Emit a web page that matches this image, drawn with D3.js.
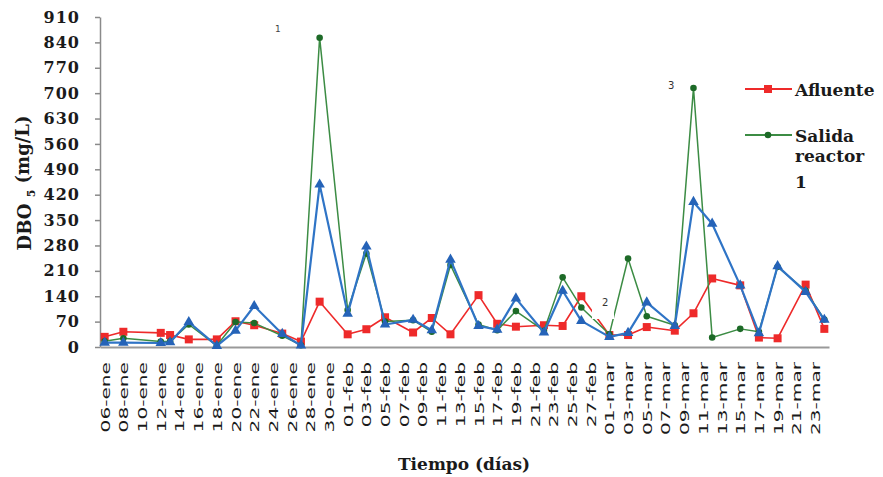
<!DOCTYPE html>
<html>
<head>
<meta charset="utf-8">
<script src="https://cdn.jsdelivr.net/npm/d3@7"></script>
<style>
  body { margin: 0; background: #fff; }
</style>
</head>
<body>
<script>
const w = 883;
const h = 477;

// fechas de muestreo
const fechas = ["06-ene", "08-ene", "12-ene", "13-ene", "15-ene", "18-ene", "20-ene", "22-ene", "25-ene", "27-ene",
  "29-ene", "01-feb", "03-feb", "05-feb", "08-feb", "10-feb", "12-feb", "15-feb", "17-feb", "19-feb",
  "22-feb", "24-feb", "26-feb", "01-mar", "03-mar", "05-mar", "08-mar", "10-mar", "12-mar", "15-mar",
  "17-mar", "19-mar", "22-mar", "24-mar"];

const afluente = [28, 42, 39, 33, 21, 21, 71, 60, 37, 15,
  125, 35, 49, 82, 40, 80, 35, 143, 64, 56,
  60, 58, 140, 33, 33, 55, 45, 93, 189, 170,
  26, 24, 172, 50];

const salida1 = [16, 24, 15, 16, 62, 4, 69, 66, 31, 5,
  853, 102, 258, 70, 74, 42, 226, 62, 46, 99,
  45, 192, 109, 35, 244, 85, 60, 714, 26, 50,
  42, 221, 155, 76];

const salida2 = [12, 12, 11, 13, 69, 3, 45, 113, 36, 4,
  448, 92, 277, 62, 75, 46, 241, 58, 48, 134,
  40, 155, 72, 28, 39, 123, 58, 400, 340, 170,
  38, 223, 152, 75];

const tickLabels = ["06-ene", "08-ene", "10-ene", "12-ene", "14-ene", "16-ene", "18-ene", "20-ene", "22-ene", "24-ene",
  "26-ene", "28-ene", "30-ene", "01-feb", "03-feb", "05-feb", "07-feb", "09-feb", "11-feb", "13-feb",
  "15-feb", "17-feb", "19-feb", "21-feb", "23-feb", "25-feb", "27-feb", "01-mar", "03-mar", "05-mar",
  "07-mar", "09-mar", "11-mar", "13-mar", "15-mar", "17-mar", "19-mar", "21-mar", "23-mar"];

const yTicks = [0, 70, 140, 210, 280, 350, 420, 490, 560, 630, 700, 770, 840, 910];

const meses = { ene: 0, feb: 1, mar: 2 };
const parseFecha = s => new Date(2021, meses[s.slice(3)], +s.slice(0, 2), 0);

let svg = d3.select("body").append("svg").attr("width", w).attr("height", h);

let x = d3.scaleTime()
  .domain([new Date(2021, 0, 5, 12), new Date(2021, 2, 24, 12)])
  .range([100, 829]);
let y = d3.scaleLinear().domain([0, 910]).range([347, 17]);

// eje Y
let yAxis = svg.append("g")
  .attr("transform", "translate(100,0)")
  .call(d3.axisLeft(y).tickValues(yTicks).tickSize(5).tickSizeOuter(0).tickPadding(15));
yAxis.select(".domain").attr("stroke", "#8a8a8a").attr("stroke-width", 1.5);
yAxis.selectAll(".tick line").attr("stroke", "#8a8a8a").attr("stroke-width", 1.5);
yAxis.selectAll(".tick text")
  .attr("font-family", "DejaVu Serif")
  .attr("font-weight", "bold")
  .attr("font-size", 16)
  .attr("letter-spacing", 1)
  .attr("fill", "#1a1a1a");

// eje X
let xAxis = svg.append("g")
  .attr("transform", "translate(0,347)")
  .call(d3.axisBottom(x)
    .tickValues(tickLabels.map(parseFecha))
    .tickSize(0)
    .tickSizeOuter(0)
    .tickFormat((d, i) => tickLabels[i]));
xAxis.select(".domain").attr("stroke", "#999").attr("stroke-width", 2);
xAxis.selectAll(".tick text")
  .attr("x", 0)
  .attr("y", 0)
  .attr("dy", "0.35em")
  .attr("text-anchor", "end")
  .attr("transform", "translate(0,15) rotate(-90) scale(1.55,1)")
  .attr("font-family", "DejaVu Sans")
  .attr("font-size", 13)
  .attr("fill", "#1a1a1a");

// series
const series = [
  { name: "Afluente", values: afluente, color: "#ee2a2a", mark: "#ee2a2a", width: 1.6, symbol: d3.symbolSquare, size: 64 },
  { name: "Salida reactor 1", values: salida1, color: "#3c8c44", mark: "#1d6a27", width: 1.5, symbol: d3.symbolCircle, size: 34 },
  { name: "Salida reactor 2", values: salida2, color: "#2f74c6", mark: "#2563b8", width: 2.2, symbol: d3.symbolTriangle, size: 48 }
];

let line = d3.line()
  .x(d => x(parseFecha(d.fecha)))
  .y(d => y(d.v));

series.forEach((s, k) => {
  let pts = fechas.map((f, i) => ({ fecha: f, v: s.values[i] }));
  let g = svg.append("g");
  g.append("path")
    .datum(pts)
    .attr("d", line)
    .attr("fill", "none")
    .attr("stroke", s.color)
    .attr("stroke-width", s.width)
    .attr("stroke-linejoin", "round");
  g.selectAll("path.mk")
    .data(pts)
    .enter()
    .append("path")
    .attr("class", "mk")
    .attr("d", d3.symbol().type(s.symbol).size(s.size))
    .attr("transform", d => `translate(${x(parseFecha(d.fecha))},${y(d.v)})`)
    .attr("fill", s.mark);

  // etiqueta 2 con fondo blanco, tapa rojo y verde
  if (k === 1) {
    svg.append("rect")
      .attr("x", 592).attr("y", 293).attr("width", 22).attr("height", 26)
      .attr("fill", "#fff");
    svg.append("text")
      .attr("x", 602).attr("y", 306)
      .attr("font-family", "DejaVu Sans")
      .attr("font-size", 10)
      .attr("fill", "#333")
      .text("2");
  }
});

// etiquetas 1 y 3
svg.append("text").attr("x", 275).attr("y", 32)
  .attr("font-family", "DejaVu Sans").attr("font-size", 9).attr("fill", "#444").text("1");
svg.append("text").attr("x", 668).attr("y", 89)
  .attr("font-family", "DejaVu Sans").attr("font-size", 10).attr("fill", "#333").text("3");

// titulos
svg.append("text")
  .attr("x", 464).attr("y", 470)
  .attr("text-anchor", "middle")
  .attr("font-family", "DejaVu Serif")
  .attr("font-weight", "bold")
  .attr("font-size", 17)
  .attr("fill", "#1a1a1a")
  .text("Tiempo (días)");

let yt = svg.append("text")
  .attr("transform", "translate(31,183) rotate(-90)")
  .attr("text-anchor", "middle")
  .attr("font-family", "DejaVu Serif")
  .attr("font-weight", "bold")
  .attr("font-size", 18)
  .attr("fill", "#1a1a1a");
yt.append("tspan").text("DBO ");
yt.append("tspan").attr("font-size", 11).attr("dy", "0.35em").text("5");
yt.append("tspan").attr("dy", "-0.35em").text(" (mg/L)");

// leyenda
const legendItems = [
  { lines: ["Afluente"], s: series[0], y: 89 },
  { lines: ["Salida", "reactor", "1"], s: series[1], y: 135 }
];
legendItems.forEach(it => {
  let g = svg.append("g");
  g.append("line")
    .attr("x1", 745).attr("x2", 792).attr("y1", it.y).attr("y2", it.y)
    .attr("stroke", it.s.color).attr("stroke-width", 1.8);
  g.append("path")
    .attr("d", d3.symbol().type(it.s.symbol).size(it.s.size))
    .attr("transform", `translate(768,${it.y})`)
    .attr("fill", it.s.mark);
  let t = g.append("text")
    .attr("font-family", "DejaVu Serif")
    .attr("font-weight", "bold")
    .attr("font-size", 17)
    .attr("fill", "#1a1a1a");
  it.lines.forEach((l, i) => {
    t.append("tspan")
      .attr("x", 795)
      .attr("y", it.y + 7 + [0, 20, 46][i])
      .text(l);
  });
});
</script>
</body>
</html>
